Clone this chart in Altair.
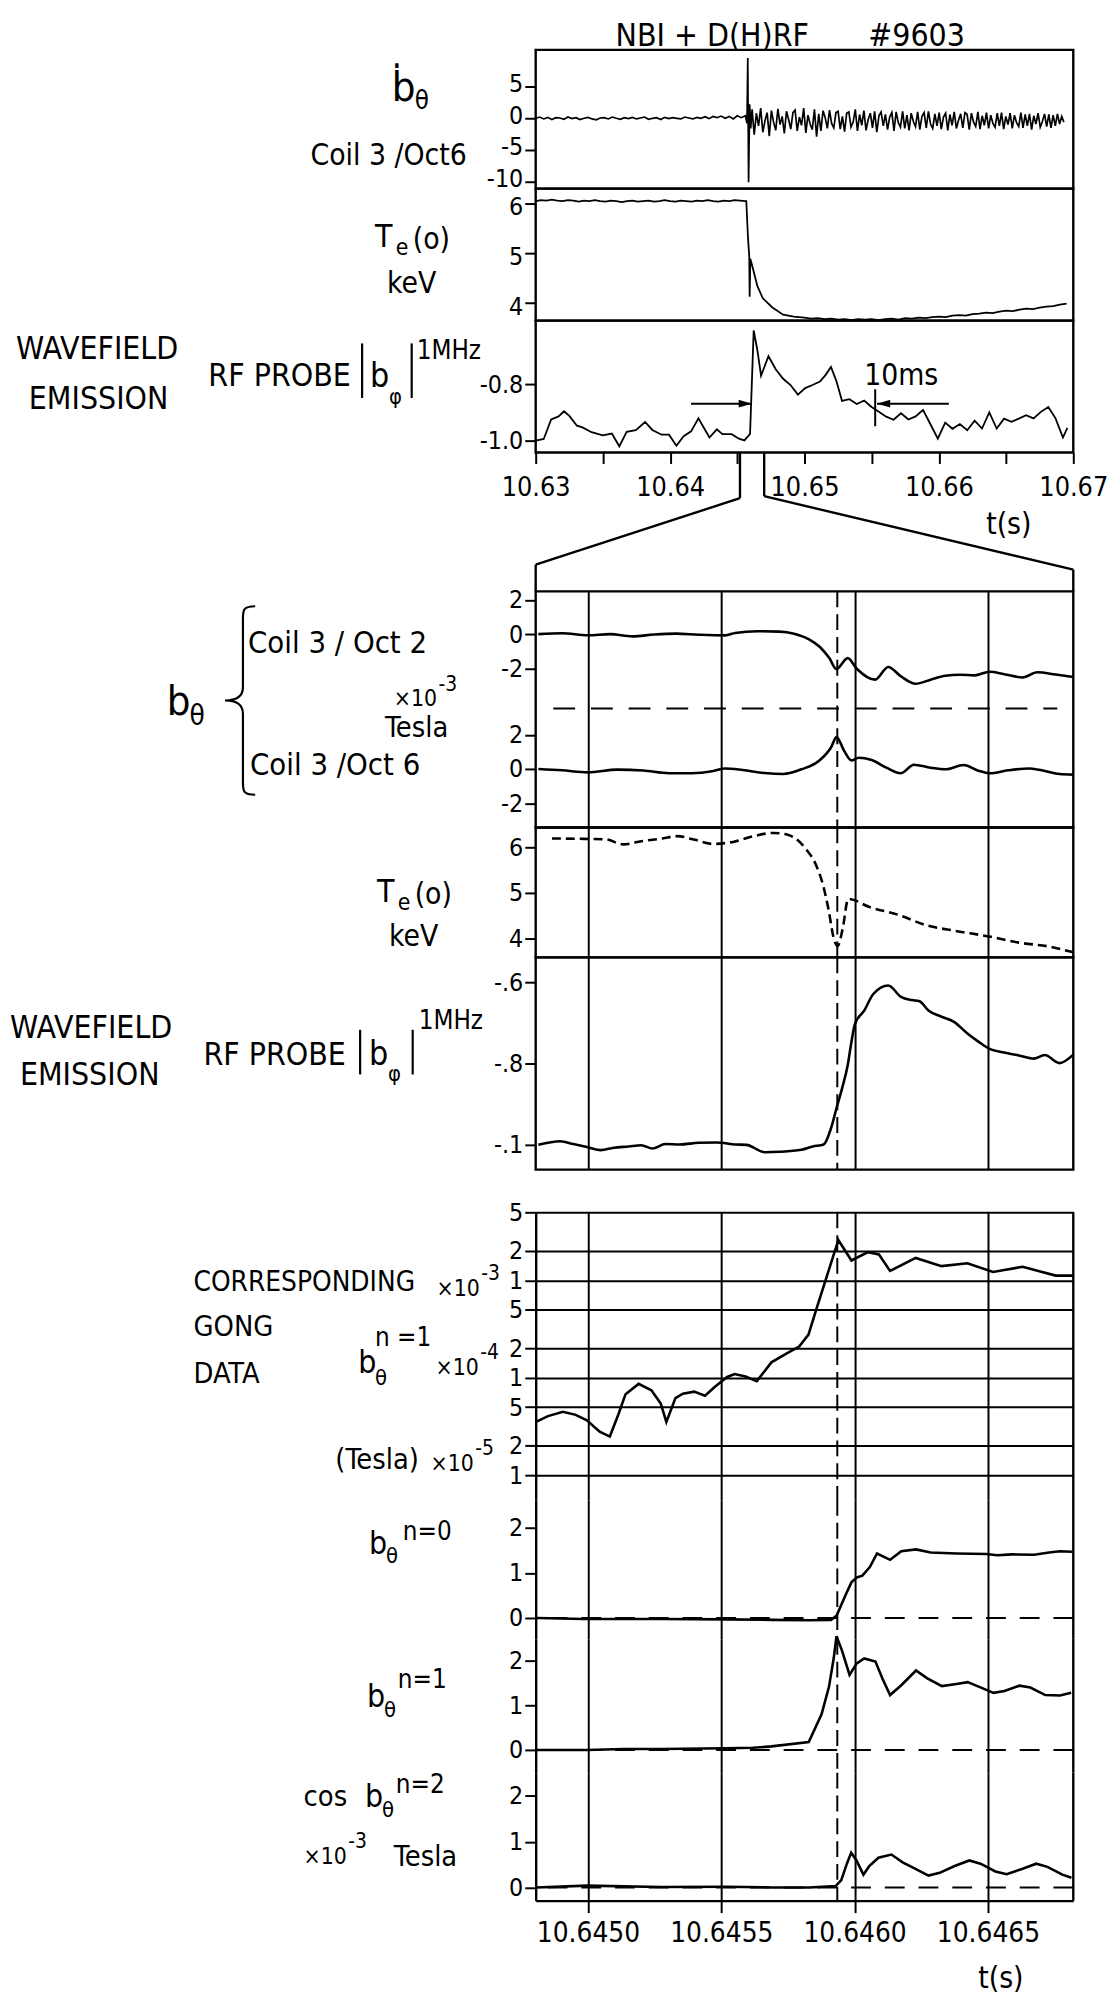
import altair as alt
import pandas as pd

FONT = "DejaVu Sans Condensed, DejaVu Sans"
INK = "#000000"
LW = 2.4

# ====================================================================== data
# ---------- upper record (time axis 10.63 .. 10.67 s)
TOP_DOMAIN = [10.63, 10.67]
TOP_TICKS = [10.630, 10.635, 10.640, 10.645, 10.650, 10.655, 10.660, 10.665, 10.670]
ZOOM_WINDOW = [10.6452, 10.6470]

# b-dot theta, Coil 3 / Oct 6 (sampled segments + spike)
BDOT_PRE_T0, BDOT_PRE_DT = 10.6300, 0.0003
BDOT_PRE = [0.0, 0.2, -0.1, 0.15, -0.2, 0.1, 0.05, -0.15, 0.2, -0.05,
            0.1, -0.2, 0.0, 0.15, -0.1, -0.25, 0.05, 0.1, -0.1, 0.2,
            0.0, -0.15, 0.1, -0.05, 0.15, -0.1, 0.05, 0.2, -0.15, 0.0,
            0.1, -0.2, 0.15, -0.05, 0.1, 0.0, -0.1, 0.2, 0.05, -0.1,
            0.15, 0.0, 0.25, -0.05, 0.3, 0.1, 0.35, 0.0, 0.3, -0.1,
            0.4, 0.1]
BDOT_SPIKE_T = [10.64560, 10.64572, 10.64578, 10.64584, 10.64592, 10.64600]
BDOT_SPIKE_V = [0.4, -0.8, 9.5, -10.1, 2.2, -1.6]
BDOT_POST_T0, BDOT_POST_DT = 10.64610, 0.00016
BDOT_POST = [1.4, -2.6, 0.8, -1.2, 1.6, -2.2, -0.4, 0.9, -2.8, 1.2, -0.6, -1.9, 1.5, -1.0, 0.3, -2.4, 1.1, -0.2, -1.7, 0.9,
             1.3, -2.0, 0.2, -1.1, 1.6, -2.3, 0.5, -0.9, -1.8, 1.4, -2.9, 0.7, -2.0, 1.2, 0.1, -1.6, 1.3, -0.8, -1.5, 0.9,
             1.1, -1.7, 0.3, -2.1, 0.8, 1.0, -1.4, -0.6, 1.4, -2.0, 0.6, -1.1, 1.2, -1.9, -0.2, 0.8, -1.5, 1.1, -2.2, 0.4,
             1.0, -1.2, 0.6, -1.8, 0.2, 0.9, -2.0, 1.0, -0.7, -1.4, 1.1, -1.6, 0.5, -1.9, 0.8, -0.5, -1.3, 1.0, -1.8, 0.3,
             0.9, -1.5, 1.1, -0.9, -1.6, 0.7, -1.2, 0.9, -1.7, 0.2, 0.8, -1.9, 0.6, -1.1, 1.0, -1.6, -0.3, 0.7, -1.5, 0.9,
             0.6, -1.8, 0.8, -0.6, -1.3, 1.0, -1.7, 0.4, -1.1, 0.9, -1.6, 0.5, -0.8, -1.4, 0.8, -1.2, 0.9, -1.7, 0.3, -1.0,
             0.8, -1.6, 0.5, -0.7, -1.3, 0.9, -1.5, 0.6, -1.2, 0.7, -1.8, 0.4, -0.9, 0.8, -1.4, -0.5, 0.7, -1.3, 0.6, -1.5,
             0.5, -1.2, 0.7, -0.9, 0.3, -0.6]
BDOT_TICKS = [-10, -5, 0, 5]

# Te(0) keV
TE_TOP_PRE_T0, TE_TOP_PRE_DT = 10.6300, 0.0004
TE_TOP_PRE = [6.06, 6.08, 6.07, 6.09, 6.07, 6.06, 6.08, 6.07, 6.05, 6.07,
              6.06, 6.08, 6.06, 6.05, 6.07, 6.06, 6.04, 6.06, 6.07, 6.05,
              6.06, 6.07, 6.05, 6.06, 6.08, 6.06, 6.05, 6.07, 6.06, 6.05,
              6.07, 6.06, 6.08, 6.06, 6.05, 6.07, 6.06, 6.08, 6.07, 6.06]
TE_TOP_DROP_T = [10.64567, 10.64580, 10.64589, 10.64592, 10.64597, 10.64622, 10.64649,
                 10.64690, 10.64759, 10.64841, 10.64920]
TE_TOP_DROP_V = [6.06, 5.30, 4.95, 4.13, 4.90, 4.64, 4.35, 4.10, 3.92, 3.77, 3.73]
TE_TOP_TAIL_T0, TE_TOP_TAIL_DT = 10.6500, 0.0005
TE_TOP_TAIL = [3.71, 3.69, 3.70, 3.68, 3.69, 3.67, 3.68, 3.66, 3.68, 3.67,
               3.68, 3.66, 3.68, 3.69, 3.67, 3.70, 3.69, 3.71, 3.70, 3.72,
               3.73, 3.72, 3.75, 3.76, 3.75, 3.78, 3.79, 3.81, 3.80, 3.83,
               3.85, 3.84, 3.87, 3.89, 3.88, 3.91, 3.93, 3.94, 3.97, 3.99]
TE_TICKS = [4, 5, 6]

# RF probe |b_phi| 1 MHz
RF_TOP_T = [10.63000, 10.63060, 10.63115, 10.63170, 10.63211, 10.63252, 10.63307, 10.63348, 10.63416, 10.63499,
            10.63567, 10.63622, 10.63677, 10.63745, 10.63814, 10.63868, 10.63937, 10.63992, 10.64047, 10.64101,
            10.64156, 10.64211, 10.64252, 10.64293, 10.64348, 10.64389, 10.64458, 10.64512, 10.64553, 10.64595,
            10.64622, 10.64649, 10.64677, 10.64732, 10.64786, 10.64841, 10.64896, 10.64951, 10.65005, 10.65060,
            10.65115, 10.65156, 10.65197, 10.65238, 10.65279, 10.65334, 10.65389, 10.65444, 10.65499, 10.65553,
            10.65608, 10.65663, 10.65718, 10.65773, 10.65827, 10.65882, 10.65937, 10.65992, 10.66047, 10.66101,
            10.66156, 10.66211, 10.66266, 10.66321, 10.66375, 10.66430, 10.66485, 10.66540, 10.66595, 10.66649,
            10.66704, 10.66759, 10.66814, 10.66868, 10.66923, 10.66956]
RF_TOP_V = [-1.000, -0.994, -0.925, -0.914, -0.896, -0.913, -0.947, -0.953, -0.970, -0.981,
            -0.975, -1.020, -0.969, -0.963, -0.934, -0.962, -0.979, -0.979, -1.018, -0.984,
            -0.967, -0.921, -0.955, -0.989, -0.960, -0.977, -0.977, -0.993, -0.999, -0.976,
            -0.610, -0.679, -0.770, -0.701, -0.747, -0.781, -0.803, -0.837, -0.814, -0.803,
            -0.791, -0.768, -0.739, -0.790, -0.859, -0.853, -0.870, -0.858, -0.881, -0.898,
            -0.915, -0.926, -0.903, -0.925, -0.914, -0.891, -0.942, -0.993, -0.936, -0.958,
            -0.941, -0.963, -0.929, -0.957, -0.900, -0.957, -0.922, -0.933, -0.922, -0.910,
            -0.921, -0.898, -0.881, -0.921, -0.989, -0.955]
RF_TOP_TICKS = [-1.0, -0.8]
TEN_MS = [10.64608, 10.65540]        # arrow tips
ARROW_TAILS = [10.64156, 10.66074]
ARROW_LEVEL = -0.869
TEN_MS_BAR_T = 10.65526
TEN_MS_BAR = [-0.949, -0.818]
TEN_MS_LABEL = ("10ms", 10.6572, -0.772)

# ---------- expanded record (time axis 10.6448 .. 10.6468 s)
ZOOM_DOMAIN = [10.644804, 10.646820]
ZOOM_TICKS = [10.6450, 10.6455, 10.6460, 10.6465]
SYNC_T = 10.645935

COIL_TICKS = [-2, 0, 2]
COIL_OFFSET = 7.88
COIL_SEP_T = [10.64487, 10.64676]
COIL_SEP_LEVEL = 3.54
OCT2_T = [10.644814, 10.644903, 10.645000, 10.645083, 10.645166, 10.645249, 10.645331, 10.645414, 10.645515,
          10.645552, 10.645635, 10.645718, 10.645773, 10.645829, 10.645870, 10.645905, 10.645932, 10.645974,
          10.646008, 10.646077, 10.646126, 10.646174, 10.646229, 10.646285, 10.646340, 10.646395, 10.646450,
          10.646506, 10.646561, 10.646630, 10.646685, 10.646754, 10.646820]
OCT2_V = [0.0, 0.05, -0.06, 0.0, -0.13, -0.02, 0.03, -0.03, -0.07,
          0.07, 0.17, 0.15, 0.03, -0.30, -0.75, -1.40, -2.04, -1.40,
          -2.02, -2.66, -1.92, -2.47, -2.90, -2.66, -2.43, -2.37, -2.41,
          -2.20, -2.34, -2.53, -2.23, -2.36, -2.50]
OCT6_T = [10.644814, 10.644903, 10.645000, 10.645110, 10.645207, 10.645304, 10.645387, 10.645470, 10.645515,
          10.645580, 10.645663, 10.645732, 10.645801, 10.645870, 10.645912, 10.645932, 10.645960, 10.645988,
          10.646015, 10.646064, 10.646119, 10.646174, 10.646222, 10.646285, 10.646340, 10.646409, 10.646464,
          10.646506, 10.646575, 10.646657, 10.646713, 10.646768, 10.646820]
OCT6_V = [0.0, -0.08, -0.20, -0.04, -0.09, -0.25, -0.25, -0.12, 0.03,
          -0.06, -0.24, -0.29, -0.02, 0.52, 1.27, 1.86, 1.08, 0.50,
          0.66, 0.52, 0.08, -0.25, 0.25, 0.07, -0.02, 0.23, -0.10,
          -0.25, -0.08, 0.03, -0.12, -0.30, -0.33]

TE_MID_T = [10.644865, 10.644986, 10.645066, 10.645133, 10.645200, 10.645280, 10.645334, 10.645401, 10.645468,
            10.645548, 10.645628, 10.645695, 10.645749, 10.645816, 10.645856, 10.645883, 10.645901, 10.645923,
            10.645936, 10.645955, 10.645976, 10.646056, 10.646164, 10.646271, 10.646378, 10.646511, 10.646619,
            10.646726, 10.646820]
TE_MID_V = [6.19, 6.18, 6.17, 6.06, 6.13, 6.19, 6.24, 6.16, 6.07,
            6.12, 6.25, 6.31, 6.27, 5.97, 5.60, 5.14, 4.67, 3.98,
            3.84, 4.21, 4.87, 4.69, 4.52, 4.29, 4.17, 4.04, 3.91,
            3.83, 3.70]

RF_MID_T = [10.644814, 10.644896, 10.644945, 10.645000, 10.645048, 10.645097, 10.645152, 10.645200, 10.645242,
            10.645290, 10.645345, 10.645414, 10.645483, 10.645552, 10.645594, 10.645663, 10.645718, 10.645801,
            10.645843, 10.645884, 10.645912, 10.645932, 10.645953, 10.645974, 10.645988, 10.646001, 10.646036,
            10.646070, 10.646126, 10.646174, 10.646215, 10.646243, 10.646278, 10.646326, 10.646374, 10.646423,
            10.646464, 10.646506, 10.646561, 10.646616, 10.646671, 10.646713, 10.646768, 10.646820]
RF_MID_V = [-1.000, -0.991, -0.998, -1.006, -1.013, -1.007, -1.004, -1.001, -1.009,
            -0.998, -0.999, -0.995, -0.994, -0.999, -1.000, -1.018, -1.017, -1.012,
            -1.004, -0.999, -0.958, -0.910, -0.861, -0.804, -0.747, -0.703, -0.670,
            -0.629, -0.608, -0.636, -0.644, -0.647, -0.670, -0.685, -0.698, -0.726,
            -0.746, -0.764, -0.773, -0.780, -0.788, -0.779, -0.799, -0.778]
RF_MID_TICKS = [-1.0, -0.8, -0.6]
RF_MID_LABELS = ["-.1", "-.8", "-.6"]

GONG_T = [10.644809, 10.644850, 10.644906, 10.644954, 10.644996, 10.645044, 10.645082, 10.645114, 10.645141,
          10.645190, 10.645238, 10.645273, 10.645294, 10.645328, 10.645356, 10.645398, 10.645439, 10.645474,
          10.645522, 10.645550, 10.645591, 10.645633, 10.645688, 10.645744, 10.645792, 10.645827, 10.645856,
          10.645898, 10.645939, 10.645988, 10.646050, 10.646091, 10.646133, 10.646229, 10.646326, 10.646423,
          10.646519, 10.646630, 10.646754, 10.646820]
GONG_V = [3.56e-5, 4.04e-5, 4.48e-5, 4.16e-5, 3.66e-5, 2.79e-5, 2.49e-5, 4.19e-5, 6.78e-5,
          8.65e-5, 7.44e-5, 5.44e-5, 3.52e-5, 6.18e-5, 6.87e-5, 7.2e-5, 6.53e-5, 8.0e-5,
          1.02e-4, 1.09e-4, 1.03e-4, 9.2e-5, 1.44e-4, 1.77e-4, 2.09e-4, 2.77e-4, 5.0e-4,
          1.15e-3, 2.6e-3, 1.6e-3, 1.95e-3, 1.85e-3, 1.25e-3, 1.7e-3, 1.4e-3, 1.5e-3,
          1.22e-3, 1.38e-3, 1.12e-3, 1.12e-3]
LOG_TICKS = [5e-3, 2e-3, 1e-3, 5e-4, 2e-4, 1e-4, 5e-5, 2e-5, 1e-5]

N0_T = [10.644809, 10.644983, 10.645274, 10.645514, 10.645690, 10.645828, 10.645911, 10.645932, 10.645967,
        10.645988, 10.646008, 10.646029, 10.646057, 10.646084, 10.646133, 10.646175, 10.646230, 10.646285,
        10.646382, 10.646493, 10.646535, 10.646590, 10.646673, 10.646729, 10.646770, 10.646815]
N0_V = [0.0, -0.02, -0.02, -0.03, -0.04, -0.05, -0.04, 0.05, 0.52,
        0.79, 0.90, 0.94, 1.13, 1.43, 1.29, 1.48, 1.52, 1.45,
        1.43, 1.42, 1.39, 1.41, 1.40, 1.45, 1.48, 1.47]
N1_T = [10.644809, 10.644996, 10.645134, 10.645274, 10.645514, 10.645619, 10.645688, 10.645828, 10.645876,
        10.645904, 10.645922, 10.645932, 10.645953, 10.645981, 10.646008, 10.646036, 10.646078, 10.646105,
        10.646133, 10.646175, 10.646230, 10.646271, 10.646327, 10.646382, 10.646424, 10.646465, 10.646521,
        10.646562, 10.646618, 10.646659, 10.646715, 10.646770, 10.646812]
N1_V = [0.0, 0.0, 0.02, 0.02, 0.04, 0.05, 0.08, 0.18, 0.80,
        1.42, 2.07, 2.55, 2.22, 1.68, 1.94, 2.05, 1.98, 1.59,
        1.23, 1.45, 1.78, 1.61, 1.43, 1.48, 1.52, 1.42, 1.28,
        1.32, 1.44, 1.40, 1.23, 1.22, 1.28]
N2_T = [10.644804, 10.644996, 10.645274, 10.645515, 10.645692, 10.645831, 10.645929, 10.645950, 10.645971,
        10.645987, 10.646006, 10.646033, 10.646054, 10.646089, 10.646138, 10.646180, 10.646221, 10.646277,
        10.646319, 10.646375, 10.646430, 10.646472, 10.646528, 10.646570, 10.646625, 10.646681, 10.646723,
        10.646779, 10.646813]
N2_V = [0.0, 0.04, 0.01, 0.015, 0.0, 0.0, 0.03, 0.16, 0.52,
        0.76, 0.60, 0.28, 0.46, 0.65, 0.72, 0.55, 0.43, 0.26,
        0.32, 0.47, 0.59, 0.52, 0.35, 0.29, 0.40, 0.52, 0.45,
        0.28, 0.21]
GONG_N_TICKS = [0, 1, 2]

# ====================================================================== layout
W = 542
PLOT_LEFT = 538
TOP_A, H_A = 41, 140
TOP_B, H_B = 181, 133
TOP_C, H_C = 314, 133
TOP_K, H_K = 447, 140
TOP_D, H_D = 587, 238
TOP_E, H_E = 825, 131
TOP_F, H_F = 956, 214
TOP_S, H_S = 1170, 43
TOP_G, H_G = 1213, 290
TOP_H, H_H = 1503, 140
TOP_I, H_I = 1643, 135
TOP_J, H_J = 1778, 129

DOM_BDOT = [-11.1, 10.8]
DOM_TE_TOP = [3.65, 6.31]
DOM_RF_TOP = [-1.042, -0.575]
DOM_COIL = [-3.42, 10.38]
DOM_TE_MID = [3.59, 6.43]
DOM_RF_MID = [-1.061, -0.539]
DOM_GONG = [5.56e-6, 5e-3]
DOM_N0 = [-0.46, 2.615]
DOM_N1 = [-0.51, 2.49]
DOM_N2 = [-0.29, 2.51]

BRACE = ("M 0.16 -1 C 0.03 -1 0.03 -0.96 0.03 -0.86 L 0.03 -0.14 C 0.03 -0.04 -0.04 0 -0.16 0 "
         "C -0.04 0 0.03 0.04 0.03 0.14 L 0.03 0.86 C 0.03 0.96 0.03 1 0.16 1")
HEAD_R = "M 0 0 L -1 -0.3 L -1 0.3 Z"
HEAD_L = "M 0 0 L 1 -0.3 L 1 0.3 Z"


# ====================================================================== helpers
def sampled(t0, dt, values):
    return pd.DataFrame({"t": [t0 + i * dt for i in range(len(values))], "v": values})


def series(ts, vs):
    return pd.DataFrame({"t": ts, "v": vs})


def one():
    return alt.Data(values=[{}])


def lin(dom):
    return alt.Scale(domain=dom, nice=False, zero=False)


def txt(s, px, py, top, size=30, align="left"):
    return alt.Chart(one()).mark_text(
        text=s, font=FONT, fontSize=size, align=align, baseline="alphabetic", color=INK
    ).encode(x=alt.value(px - PLOT_LEFT), y=alt.value(py - top))


def times_ten(exp, px, py, top):
    """'x10' followed by a raised exponent."""
    return [txt("×10", px, py, top, 23), txt(exp, px + 45, py - 16, top, 21)]


def vbar(px, py1, py2, top):
    return alt.Chart(one()).mark_rule(color=INK, strokeWidth=2.2).encode(
        x=alt.value(px - PLOT_LEFT), y=alt.value(py1 - top), y2=alt.value(py2 - top))


def signed(fmt):
    return f"datum.value < 0 ? '-' + format(-datum.value, '{fmt}') : format(datum.value, '{fmt}')"


def yaxis(values, expr, domain=False, grid=False, offset=0):
    return alt.Axis(values=values, labelExpr=expr, domain=domain, domainColor=INK, domainWidth=LW,
                    grid=grid, gridColor=INK, gridWidth=2, gridOpacity=1,
                    ticks=True, tickSize=11, tickWidth=2, tickColor=INK,
                    labelFont=FONT, labelFontSize=25, labelColor=INK, labelPadding=2,
                    labelOffset=offset, labelOverlap=False, title=None)


def line(df, xs, xax, ys, yax, width=LW, dash=None, interp="linear", field="v"):
    kw = dict(color=INK, strokeWidth=width, interpolate=interp)
    if dash:
        kw["strokeDash"] = dash
    return alt.Chart(df).mark_line(**kw).encode(
        x=alt.X("t:Q", scale=xs, axis=xax), y=alt.Y(f"{field}:Q", scale=ys, axis=yax))


def sync(xs, xax):
    return alt.Chart(one()).mark_rule(color=INK, strokeWidth=2, strokeDash=[16, 7]).encode(
        x=alt.XDatum(SYNC_T, type="quantitative", scale=xs, axis=xax))


def right_edge(h):
    return alt.Chart(one()).mark_rule(color=INK, strokeWidth=LW).encode(
        x=alt.value(W), y=alt.value(0), y2=alt.value(h))


def zero_line(ys, yax):
    return alt.Chart(one()).mark_rule(color=INK, strokeWidth=2, strokeDash=[20, 14]).encode(
        y=alt.YDatum(0, type="quantitative", scale=ys, axis=yax))


NOFRAME = alt.ViewBackground(stroke="transparent")
FRAME = alt.ViewBackground(stroke=INK, strokeWidth=LW)

# ====================================================================== upper record
xs_top = lin(TOP_DOMAIN)

# A: b-dot
ys_A = lin(DOM_BDOT)
ay_A = yaxis(BDOT_TICKS, signed("d"), offset=-3)
bdot_df = pd.concat([sampled(BDOT_PRE_T0, BDOT_PRE_DT, BDOT_PRE),
                     series(BDOT_SPIKE_T, BDOT_SPIKE_V),
                     sampled(BDOT_POST_T0, BDOT_POST_DT, BDOT_POST)], ignore_index=True)
A = alt.layer(
    line(bdot_df, xs_top, None, ys_A, ay_A, width=1.7),
    txt("NBI + D(H)RF", 716, 37, TOP_A, 32, "center"),
    txt("#9603", 922, 37, TOP_A, 32, "center"),
    txt("ḃ", 393, 93, TOP_A, 42),
    txt("θ", 416, 101, TOP_A, 26),
    txt("Coil 3 /Oct6", 311, 157, TOP_A, 30),
).properties(width=W, height=H_A, view=FRAME)

# B: Te
ys_B = lin(DOM_TE_TOP)
ay_B = yaxis(TE_TICKS, signed("d"), offset=3)
te_top_df = pd.concat([sampled(TE_TOP_PRE_T0, TE_TOP_PRE_DT, TE_TOP_PRE),
                       series(TE_TOP_DROP_T, TE_TOP_DROP_V),
                       sampled(TE_TOP_TAIL_T0, TE_TOP_TAIL_DT, TE_TOP_TAIL)], ignore_index=True)
B = alt.layer(
    line(te_top_df, xs_top, None, ys_B, ay_B, width=1.8),
    txt("T", 376, 240, TOP_B, 32),
    txt("e", 397, 248, TOP_B, 23),
    txt("(o)", 414, 242, TOP_B, 30),
    txt("keV", 413, 286, TOP_B, 30, "center"),
).properties(width=W, height=H_B, view=FRAME)

# C: RF probe with time axis
ys_C = lin(DOM_RF_TOP)
ay_C = yaxis(RF_TOP_TICKS, signed(".1f"))
ax_top = alt.Axis(values=TOP_TICKS,
                  labelExpr="abs(datum.value * 100 - round(datum.value * 100)) < 0.01 ? format(datum.value, '.2f') : ''",
                  domain=False, grid=False, ticks=True, tickSize=11, tickWidth=2, tickColor=INK,
                  labelFont=FONT, labelFontSize=27, labelColor=INK, labelPadding=11,
                  labelOverlap=False, labelFlush=False, title=None)


def xd(v):
    return alt.XDatum(v, type="quantitative", scale=xs_top, axis=ax_top)


def yd(v):
    return alt.YDatum(v, type="quantitative", scale=ys_C, axis=ay_C)


C = alt.layer(
    line(series(RF_TOP_T, RF_TOP_V), xs_top, ax_top, ys_C, ay_C, width=1.8),
    alt.Chart(one()).mark_rule(color=INK, strokeWidth=2).encode(
        x=xd(ARROW_TAILS[0]), x2=alt.X2Datum(TEN_MS[0]), y=yd(ARROW_LEVEL)),
    alt.Chart(one()).mark_rule(color=INK, strokeWidth=2).encode(
        x=xd(TEN_MS[1]), x2=alt.X2Datum(ARROW_TAILS[1]), y=yd(ARROW_LEVEL)),
    alt.Chart(one()).mark_rule(color=INK, strokeWidth=2).encode(
        x=xd(TEN_MS_BAR_T), y=yd(TEN_MS_BAR[0]), y2=alt.Y2Datum(TEN_MS_BAR[1])),
    alt.Chart(one()).mark_point(shape=HEAD_R, size=700, filled=True, color=INK, opacity=1, strokeWidth=0).encode(
        x=xd(TEN_MS[0]), y=yd(ARROW_LEVEL)),
    alt.Chart(one()).mark_point(shape=HEAD_L, size=700, filled=True, color=INK, opacity=1, strokeWidth=0).encode(
        x=xd(TEN_MS[1]), y=yd(ARROW_LEVEL)),
    alt.Chart(one()).mark_text(text=TEN_MS_LABEL[0], font=FONT, fontSize=30, color=INK).encode(
        x=xd(TEN_MS_LABEL[1]), y=yd(TEN_MS_LABEL[2])),
    txt("WAVEFIELD", 14, 353, TOP_C, 32),
    txt("EMISSION", 27, 403, TOP_C, 32),
    txt("RF PROBE", 208, 380, TOP_C, 32),
    vbar(363, 337, 392, TOP_C),
    txt("b", 371, 381, TOP_C, 34),
    txt("φ", 390, 398, TOP_C, 22),
    vbar(413, 337, 392, TOP_C),
    txt("1MHz", 418, 353, TOP_C, 26),
    txt("t(s)", 1015, 529, TOP_C, 30, "center"),
).properties(width=W, height=H_C, view=FRAME)


# K: connector between the two records
def kx(v):
    return alt.XDatum(v, type="quantitative", scale=xs_top, axis=None)


def seg(xa, xb, ya, yb):
    enc = dict(x=kx(xa), y=alt.value(ya), y2=alt.value(yb))
    if xb is not None:
        enc["x2"] = alt.X2Datum(xb)
    return alt.Chart(one()).mark_rule(color=INK, strokeWidth=LW).encode(**enc)


K = alt.layer(
    seg(ZOOM_WINDOW[0], None, 0, 46),
    seg(ZOOM_WINDOW[0], TOP_DOMAIN[0], 46, 113),
    seg(TOP_DOMAIN[0], None, 113, H_K),
    seg(ZOOM_WINDOW[1], None, 0, 44),
    seg(ZOOM_WINDOW[1], TOP_DOMAIN[1], 44, 118),
    seg(TOP_DOMAIN[1], None, 118, H_K),
).properties(width=W, height=H_K, view=NOFRAME)

# ====================================================================== expanded record
xs_z = lin(ZOOM_DOMAIN)
ax_grid = alt.Axis(values=ZOOM_TICKS, grid=True, gridColor=INK, gridWidth=2, gridOpacity=1,
                   labels=False, ticks=False, domain=False, title=None)

# D: b_theta coils
ys_D = lin(DOM_COIL)
coil_val = f"(datum.value > 4 ? datum.value - {COIL_OFFSET} : datum.value)"
ay_D = yaxis(COIL_TICKS + [c + COIL_OFFSET for c in COIL_TICKS],
             f"({coil_val} < -0.5 ? '-' : '') + format(abs({coil_val}), 'd')")
oct2_df = series(OCT2_T, OCT2_V)
oct2_df["y"] = oct2_df["v"] + COIL_OFFSET
D = alt.layer(
    line(oct2_df, xs_z, ax_grid, ys_D, ay_D, width=2.6, interp="monotone", field="y"),
    line(series(OCT6_T, OCT6_V), xs_z, ax_grid, ys_D, ay_D, width=2.6, interp="monotone"),
    alt.Chart(one()).mark_rule(color=INK, strokeWidth=2, strokeDash=[22, 16]).encode(
        x=alt.XDatum(COIL_SEP_T[0], type="quantitative", scale=xs_z, axis=ax_grid),
        x2=alt.X2Datum(COIL_SEP_T[1]),
        y=alt.YDatum(COIL_SEP_LEVEL, type="quantitative", scale=ys_D, axis=ay_D)),
    sync(xs_z, ax_grid),
    txt("b", 166, 712, TOP_D, 42),
    txt("θ", 189, 722, TOP_D, 28),
    alt.Chart(one()).mark_point(shape=BRACE, size=36100, filled=False, color=INK, opacity=1,
                                strokeWidth=2.2).encode(x=alt.value(240 - PLOT_LEFT), y=alt.value(697 - TOP_D)),
    txt("Coil 3 / Oct 2", 248, 649, TOP_D, 31),
    txt("Coil 3 /Oct 6", 250, 772, TOP_D, 31),
    *times_ten("-3", 395, 703, TOP_D),
    txt("Tesla", 386, 734, TOP_D, 29),
).properties(width=W, height=H_D, view=FRAME)

# E: Te (dashed)
ys_E = lin(DOM_TE_MID)
ay_E = yaxis(TE_TICKS, signed("d"))
E = alt.layer(
    line(series(TE_MID_T, TE_MID_V), xs_z, ax_grid, ys_E, ay_E, width=2.6, dash=[9, 5], interp="monotone"),
    sync(xs_z, ax_grid),
    txt("T", 378, 900, TOP_E, 32),
    txt("e", 399, 908, TOP_E, 23),
    txt("(o)", 416, 902, TOP_E, 30),
    txt("keV", 415, 945, TOP_E, 30, "center"),
).properties(width=W, height=H_E, view=FRAME)

# F: RF probe
ys_F = lin(DOM_RF_MID)
rf_expr = "''"
for tv, lb in zip(RF_MID_TICKS, RF_MID_LABELS):
    rf_expr = f"abs(datum.value - ({tv})) < 0.01 ? '{lb}' : ({rf_expr})"
ay_F = yaxis(RF_MID_TICKS, rf_expr)
F = alt.layer(
    line(series(RF_MID_T, RF_MID_V), xs_z, ax_grid, ys_F, ay_F, width=2.6, interp="monotone"),
    sync(xs_z, ax_grid),
    txt("WAVEFIELD", 8, 1037, TOP_F, 32),
    txt("EMISSION", 18, 1085, TOP_F, 32),
    txt("RF PROBE", 203, 1064, TOP_F, 32),
    vbar(361, 1029, 1074, TOP_F),
    txt("b", 370, 1064, TOP_F, 34),
    txt("φ", 389, 1081, TOP_F, 22),
    vbar(414, 1029, 1074, TOP_F),
    txt("1MHz", 420, 1028, TOP_F, 26),
).properties(width=W, height=H_F, view=FRAME)

S = alt.Chart(one()).mark_text(text="").encode(x=alt.value(0), y=alt.value(0)).properties(
    width=W, height=H_S, view=NOFRAME)

# G: GONG n=1 log
ys_G = alt.Scale(type="log", domain=DOM_GONG, nice=False)
ay_G = yaxis(LOG_TICKS, "substring(format(datum.value, '.0e'), 0, 1)", domain=True, grid=True)
G = alt.layer(
    line(series(GONG_T, GONG_V), xs_z, ax_grid, ys_G, ay_G, width=2.6),
    sync(xs_z, ax_grid),
    right_edge(H_G),
    txt("CORRESPONDING", 193, 1292, TOP_G, 28),
    *times_ten("-3", 438, 1297, TOP_G),
    txt("GONG", 193, 1338, TOP_G, 29),
    txt("DATA", 193, 1385, TOP_G, 29),
    txt("b", 359, 1375, TOP_G, 32),
    txt("θ", 376, 1387, TOP_G, 22),
    txt("n =1", 376, 1348, TOP_G, 26),
    *times_ten("-4", 437, 1377, TOP_G),
    txt("(Tesla)", 336, 1472, TOP_G, 29),
    *times_ten("-5", 432, 1474, TOP_G),
).properties(width=W, height=H_G, view=NOFRAME)

# H, I, J: n = 0, 1, 2
ys_H = lin(DOM_N0)
ay_H = yaxis(GONG_N_TICKS, signed("d"), domain=True)
H = alt.layer(
    zero_line(ys_H, ay_H),
    line(series(N0_T, N0_V), xs_z, ax_grid, ys_H, ay_H, width=2.6),
    sync(xs_z, ax_grid),
    right_edge(H_H),
    txt("b", 370, 1557, TOP_H, 32),
    txt("θ", 387, 1567, TOP_H, 22),
    txt("n=0", 404, 1543, TOP_H, 26),
).properties(width=W, height=H_H, view=NOFRAME)

ys_I = lin(DOM_N1)
ay_I = yaxis(GONG_N_TICKS, signed("d"), domain=True)
I = alt.layer(
    zero_line(ys_I, ay_I),
    line(series(N1_T, N1_V), xs_z, ax_grid, ys_I, ay_I, width=2.6),
    sync(xs_z, ax_grid),
    right_edge(H_I),
    txt("b", 368, 1712, TOP_I, 32),
    txt("θ", 385, 1722, TOP_I, 22),
    txt("n=1", 399, 1693, TOP_I, 26),
).properties(width=W, height=H_I, view=NOFRAME)

ys_J = lin(DOM_N2)
ay_J = yaxis(GONG_N_TICKS, signed("d"), domain=True)
ax_J = alt.Axis(values=ZOOM_TICKS, format=".4f", grid=True, gridColor=INK, gridWidth=2, gridOpacity=1,
                domain=True, domainColor=INK, domainWidth=LW, ticks=True, tickSize=12, tickWidth=2,
                tickColor=INK, labelFont=FONT, labelFontSize=28, labelColor=INK, labelPadding=7,
                labelOverlap=False, labelFlush=False, title=None)
J = alt.layer(
    zero_line(ys_J, ay_J),
    line(series(N2_T, N2_V), xs_z, ax_J, ys_J, ay_J, width=2.6),
    sync(xs_z, ax_J),
    right_edge(H_J),
    txt("cos", 304, 1812, TOP_J, 29),
    txt("b", 366, 1813, TOP_J, 32),
    txt("θ", 383, 1823, TOP_J, 22),
    txt("n=2", 397, 1798, TOP_J, 26),
    *times_ten("-3", 304, 1870, TOP_J),
    txt("Tesla", 395, 1872, TOP_J, 29),
    txt("t(s)", 1007, 1995, TOP_J, 30, "center"),
).properties(width=W, height=H_J, view=NOFRAME)

chart = (
    alt.vconcat(A, B, C, K, D, E, F, S, G, H, I, J, spacing=0, bounds="flush")
    .resolve_scale(x="independent", y="independent")
    .properties(padding={"left": 0, "top": 2, "right": 0, "bottom": 0})
    .configure(font=FONT)
    .configure_view(stroke=INK, strokeWidth=LW)
)

chart.save("out.html", embed_options={"renderer": "svg", "actions": False})
